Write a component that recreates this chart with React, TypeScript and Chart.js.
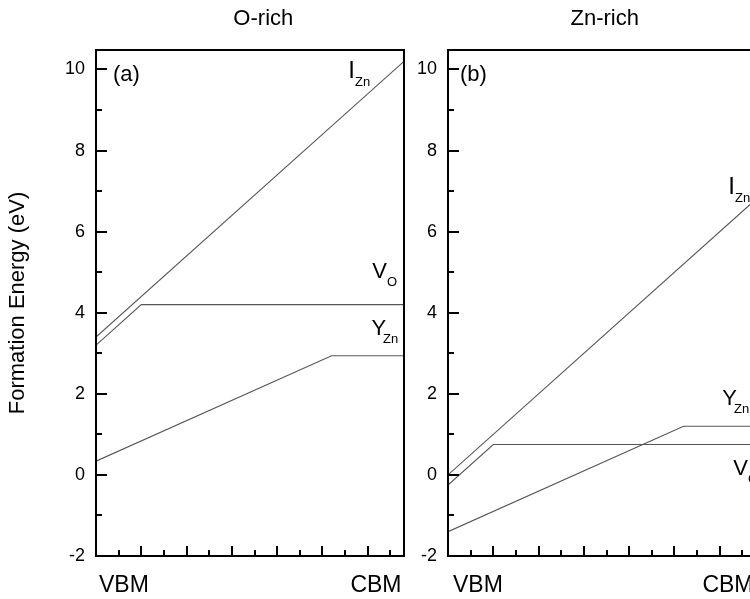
import React, { useEffect, useRef } from 'react';
import { Chart, registerables } from 'chart.js';

Chart.register(...registerables);

const FONT = '"Liberation Sans", Arial, Helvetica, sans-serif';

// ---- axes ----
const xRange = [0, 3.4];
const yRange = [-2, 10.48];
const yMajorTicks = [-2, 0, 2, 4, 6, 8, 10];
const yMinorTicks = [-1, 1, 3, 5, 7, 9];
const xMajorTicks = [0.5, 1, 1.5, 2, 2.5, 3];
const xMinorTicks = [0.25, 0.75, 1.25, 1.75, 2.25, 2.75, 3.25];
const xEndLabels = ['VBM', 'CBM'];
const yAxisTitle = 'Formation Energy (eV)';
const panelTitles = ['O-rich', 'Zn-rich'];
const panelTags = ['(a)', '(b)'];

// ---- O-rich (a) ----
const oRichIznX = [0, 3.4];
const oRichIznY = [3.4, 10.2];
const oRichVoX = [0, 0.5, 3.4];
const oRichVoY = [3.2, 4.2, 4.2];
const oRichYznX = [0, 2.6, 3.4];
const oRichYznY = [0.34, 2.94, 2.94];

// ---- Zn-rich (b) ----
const znRichIznX = [0, 3.4];
const znRichIznY = [0.0, 6.8];
const znRichVoX = [0, 0.5, 3.4];
const znRichVoY = [-0.25, 0.75, 0.75];
const znRichYznX = [0, 2.6, 3.4];
const znRichYznY = [-1.4, 1.2, 1.2];

type Label = { main: string; sub: string; x: number; y: number; subDx: number; mainSize: number };

const oRichLabels: Label[] = [
  { main: 'I', sub: 'Zn', x: 2.785, y: 9.78, subDx: 0, mainSize: 24 },
  { main: 'V', sub: 'O', x: 3.05, y: 4.85, subDx: 0, mainSize: 22 },
  { main: 'Y', sub: 'Zn', x: 3.04, y: 3.45, subDx: -3, mainSize: 22 },
];
const znRichLabels: Label[] = [
  { main: 'I', sub: 'Zn', x: 3.094, y: 6.94, subDx: 0, mainSize: 24 },
  { main: 'Y', sub: 'Zn', x: 3.028, y: 1.72, subDx: -3, mainSize: 22 },
  { main: 'V', sub: 'O', x: 3.149, y: 0.0, subDx: 0, mainSize: 22 },
];

const LINE_COLOR = '#555555';

function series(xs: number[], ys: number[]) {
  return {
    data: xs.map((x, i) => ({ x, y: ys[i] })),
    borderColor: LINE_COLOR,
    borderWidth: 1.1,
    pointRadius: 0,
    fill: false,
    tension: 0,
  };
}

type PanelCfg = {
  title: string;
  titleX: number;
  tag: string;
  tagDx: number;
  vbmDx: number;
  labels: Label[];
  datasets: any[];
  axisWidth: number;
  padRight: number;
  showYTitle: boolean;
};

const panels: PanelCfg[] = [
  {
    title: panelTitles[0],
    titleX: 1.847,
    tag: panelTags[0],
    tagDx: 17,
    vbmDx: 3,
    labels: oRichLabels,
    datasets: [series(oRichIznX, oRichIznY), series(oRichVoX, oRichVoY), series(oRichYznX, oRichYznY)],
    axisWidth: 96,
    padRight: 6,
    showYTitle: true,
  },
  {
    title: panelTitles[1],
    titleX: 1.73,
    tag: panelTags[1],
    tagDx: 12,
    vbmDx: 5,
    labels: znRichLabels,
    datasets: [series(znRichIznX, znRichIznY), series(znRichVoX, znRichVoY), series(znRichYznX, znRichYznY)],
    axisWidth: 38,
    padRight: 44,
    showYTitle: false,
  },
];

function decorPlugin(p: PanelCfg) {
  return {
    id: 'decor',
    afterDraw(chart: any) {
      const { ctx, chartArea } = chart;
      const { left, right, top, bottom } = chartArea;
      const xs = chart.scales.x;
      const ys = chart.scales.y;
      ctx.save();
      ctx.strokeStyle = '#000';
      ctx.lineWidth = 2;
      ctx.strokeRect(left, top, right - left, bottom - top);
      // inward tick marks
      ctx.beginPath();
      const tick = (x1: number, y1: number, x2: number, y2: number) => {
        ctx.moveTo(x1, y1);
        ctx.lineTo(x2, y2);
      };
      yMajorTicks.forEach((v) => {
        const py = Math.round(ys.getPixelForValue(v));
        tick(left, py, left + 11, py);
      });
      yMinorTicks.forEach((v) => {
        const py = Math.round(ys.getPixelForValue(v));
        tick(left, py, left + 6, py);
      });
      xMajorTicks.forEach((v) => {
        const px = Math.round(xs.getPixelForValue(v));
        tick(px, bottom, px, bottom - 10);
      });
      xMinorTicks.forEach((v) => {
        const px = Math.round(xs.getPixelForValue(v));
        tick(px, bottom, px, bottom - 6);
      });
      ctx.stroke();

      ctx.fillStyle = '#000';
      ctx.textBaseline = 'alphabetic';
      // panel title
      ctx.font = `22px ${FONT}`;
      ctx.textAlign = 'center';
      ctx.fillText(p.title, xs.getPixelForValue(p.titleX), top - 25);
      // tag
      ctx.textAlign = 'left';
      ctx.fillText(p.tag, left + p.tagDx, top + 31);
      // VBM / CBM
      ctx.font = `23px ${FONT}`;
      ctx.textAlign = 'left';
      ctx.fillText(xEndLabels[0], xs.getPixelForValue(xRange[0]) + p.vbmDx, bottom + 36);
      ctx.textAlign = 'right';
      ctx.fillText(xEndLabels[1], xs.getPixelForValue(xRange[1]) - 2.5, bottom + 36);
      // defect labels
      ctx.textAlign = 'left';
      p.labels.forEach((l) => {
        const px = xs.getPixelForValue(l.x);
        const py = ys.getPixelForValue(l.y);
        ctx.font = `${l.mainSize}px ${FONT}`;
        ctx.fillText(l.main, px, py);
        const w = ctx.measureText(l.main).width;
        ctx.font = `13px ${FONT}`;
        ctx.fillText(l.sub, px + w + l.subDx, py + 8);
      });
      ctx.restore();
    },
  };
}

function buildConfig(p: PanelCfg): any {
  return {
    type: 'line',
    data: { datasets: p.datasets },
    options: {
      animation: false,
      responsive: false,
      events: [],
      layout: { padding: { left: 0, top: 50, right: p.padRight, bottom: 43 } },
      plugins: { legend: { display: false }, tooltip: { enabled: false }, title: { display: false } },
      scales: {
        x: { type: 'linear', min: xRange[0], max: xRange[1], display: false },
        y: {
          type: 'linear',
          min: yRange[0],
          max: yRange[1],
          afterFit: (s: any) => {
            s.width = p.axisWidth;
          },
          afterBuildTicks: (s: any) => {
            s.ticks = yMajorTicks.map((v) => ({ value: v }));
          },
          grid: { display: false, drawTicks: false },
          border: { display: false },
          ticks: { font: { family: FONT, size: 18 }, color: '#000', padding: 11 },
          title: {
            display: p.showYTitle,
            text: yAxisTitle,
            color: '#000',
            font: { family: FONT, size: 22 },
            padding: { top: 5, bottom: 0 },
          },
        },
      },
    },
    plugins: [decorPlugin(p)],
  };
}

function Panel({ cfg, left, width }: { cfg: PanelCfg; left: number; width: number }) {
  const ref = useRef<HTMLCanvasElement>(null);
  useEffect(() => {
    const chart = new Chart(ref.current as HTMLCanvasElement, buildConfig(cfg));
    return () => chart.destroy();
  }, [cfg]);
  return (
    <canvas
      ref={ref}
      width={width}
      height={599}
      style={{ position: 'absolute', left, top: 0, width, height: 599, display: 'block' }}
    />
  );
}

export default function App() {
  return (
    <div
      style={{
        position: 'absolute',
        left: 0,
        top: 0,
        width: 750,
        height: 599,
        overflow: 'hidden',
        background: '#fff',
      }}
    >
      <Panel cfg={panels[0]} left={0} width={410} />
      <Panel cfg={panels[1]} left={410} width={390} />
    </div>
  );
}
